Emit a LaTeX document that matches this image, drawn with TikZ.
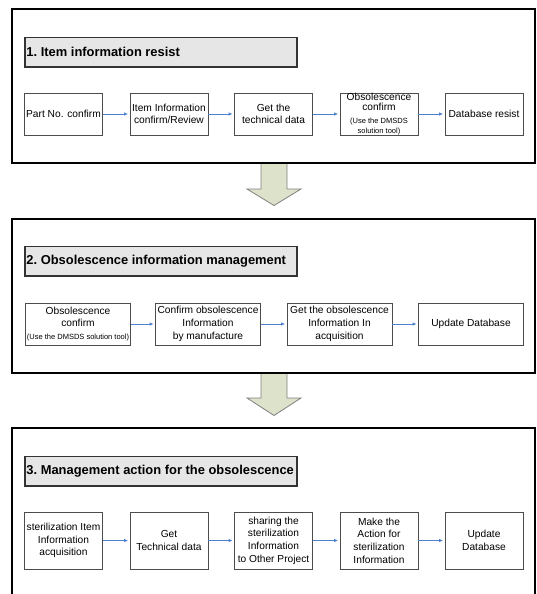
\documentclass[tikz,border=0pt]{standalone}
\usepackage{fontspec}
\setmainfont{Liberation Sans}
\usetikzlibrary{arrows.meta}
\definecolor{flowblue}{RGB}{79,129,209}
\definecolor{titlegray}{RGB}{230,230,230}
\definecolor{bigarrow}{RGB}{221,226,203}
\newcommand{\tinytext}{\fontsize{7.5bp}{10bp}\selectfont}
\newcommand{\stagetext}[1]{\makebox[269bp][l]{#1}}

\begin{document}
\begin{tikzpicture}[x=1bp,y=-1bp,
	frame/.style={line width=2bp, black},
	titlebox/.style={draw=black!80, line width=1.2bp, fill=titlegray, minimum height=29.5bp, inner xsep=1.5bp, inner ysep=0pt, font=\fontsize{12.9bp}{15bp}\selectfont\bfseries\frenchspacing},
	stepbox/.style={draw=black!70, line width=0.8bp, fill=white, minimum width=78bp, minimum height=42bp, inner sep=0pt, align=center, font=\fontsize{10.2bp}{12.7bp}\selectfont},
	widebox/.style={stepbox, minimum width=105bp},
	tallbox/.style={stepbox, minimum height=57bp},
	flow/.style={-{Latex[length=4bp,width=3.5bp]}, flowblue, line width=0.8bp, shorten >=1.5bp},
	downarrow/.style={draw=black!50, line width=0.8bp, fill=bigarrow}]

	\useasboundingbox (0,0) rectangle (537,594);
	\clip (0,0) rectangle (537,594);

	% arrows between the stages
	\draw [downarrow] (261,163) -- (261,189) -- (247,189) -- (274,205.5) -- (301,189) -- (287,189) -- (287,163) -- cycle;
	\draw [downarrow] (261,372.5) -- (261,398) -- (247,398) -- (274,415.5) -- (301,398) -- (287,398) -- (287,372.5) -- cycle;

	% stage frames
	\draw [frame] (11.5,9.5) rectangle (535,163);
	\draw [frame] (11.5,218.5) rectangle (535,372.5);
	\draw [frame] (11.5,428) rectangle (535,640);

	% stage 1
	\node [titlebox] (title1) at (161,52.2) {\stagetext{1. Item information resist}};
	\node [stepbox] (partno) at (63.5,114) {Part No. confirm};
	\node [stepbox] (iteminfo) at (169,114) {Item Information\\confirm/Review};
	\node [stepbox] (techdata) at (273.5,114) {Get the\\technical data};
	\node [stepbox, font=\fontsize{10.2bp}{10bp}\selectfont] (obsconf) at (379,114) {Obsolescence\\confirm\\[3bp]{\tinytext (Use the DMSDS}\\{\tinytext solution tool)}};
	\node [stepbox] (dbresist) at (484,114) {Database resist};
	\draw [flow] (partno) -- (iteminfo);
	\draw [flow] (iteminfo) -- (techdata);
	\draw [flow] (techdata) -- (obsconf);
	\draw [flow] (obsconf) -- (dbresist);

	% stage 2
	\node [titlebox] (title2) at (161,261.3) {\stagetext{2. Obsolescence information management}};
	\node [widebox] (obsconfb) at (78,324) {Obsolescence\\confirm\\{\tinytext (Use the DMSDS solution tool)}};
	\node [widebox] (bymanuf) at (208,324) {Confirm obsolescence\\Information\\by manufacture};
	\node [widebox] (obsacq) at (339.5,324) {Get the obsolescence\\Information In\\acquisition};
	\node [widebox] (updatedb) at (471,324) {Update Database};
	\draw [flow] (obsconfb) -- (bymanuf);
	\draw [flow] (bymanuf) -- (obsacq);
	\draw [flow] (obsacq) -- (updatedb);

	% stage 3
	\node [titlebox] (title3) at (161,471.2) {\stagetext{3. Management action for the obsolescence}};
	\node [tallbox] (steracq) at (63.5,540.5) {sterilization Item\\Information\\acquisition};
	\node [tallbox] (techdatab) at (169,540.5) {Get\\Technical data};
	\node [tallbox] (sharing) at (273.5,540.5) {sharing the\\sterilization\\Information\\to Other Project};
	\node [tallbox] (action) at (379,540.5) {Make the\\Action for\\sterilization\\Information};
	\node [tallbox] (updatedbb) at (484,540.5) {Update\\Database};
	\draw [flow] (steracq) -- (techdatab);
	\draw [flow] (techdatab) -- (sharing);
	\draw [flow] (sharing) -- (action);
	\draw [flow] (action) -- (updatedbb);

\end{tikzpicture}
\end{document}
